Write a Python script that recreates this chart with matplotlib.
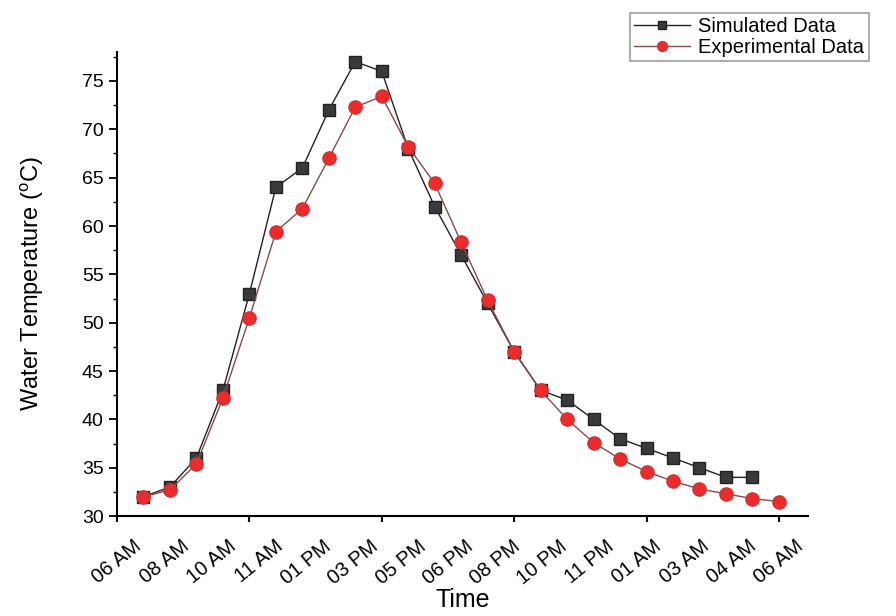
import matplotlib
matplotlib.use("Agg")
import matplotlib.pyplot as plt
import numpy as np

plt.rcParams['font.family'] = ['Liberation Sans', 'DejaVu Sans']

tick_labels = ["06 AM", "08 AM", "10 AM", "11 AM", "01 PM", "03 PM", "05 PM", "06 PM",
               "08 PM", "10 PM", "11 PM", "01 AM", "03 AM", "04 AM", "06 AM"]

sim_hours = list(range(1, 25))
sim_temp = [32, 33, 36, 43, 53, 64, 66, 72, 77, 76, 68, 62, 57, 52, 47, 43, 42, 40, 38, 37, 36, 35, 34, 34]

exp_hours = list(range(1, 26))
exp_temp = [32, 32.7, 35.4, 42.2, 50.5, 59.4, 61.8, 67.0, 72.3, 73.4, 68.2, 64.4, 58.3, 52.3,
            47.0, 43.0, 40.0, 37.6, 35.9, 34.6, 33.6, 32.8, 32.3, 31.8, 31.5]

fig = plt.figure(figsize=(8.96, 6.16), dpi=100)
ax = fig.add_axes([0.1306, 0.1623, 0.7712, 0.7533])

ax.plot(sim_hours, sim_temp, color='#222222', lw=1.0, marker='s', markersize=8.5,
        markerfacecolor='#3a3a3a', markeredgecolor='#222222', label='Simulated Data', zorder=3)
ax.plot(exp_hours, exp_temp, color='#8a4a4a', lw=1.0, marker='o', markersize=9.5,
        markerfacecolor='#ee2a2a', markeredgecolor='#cc3333', label='Experimental Data', zorder=4)

ax.set_xlim(0, 26.1)
ax.set_ylim(30, 78)

ax.xaxis.remove_overlapping_locs = False
ax.set_xticks(np.arange(0, 26, 5))
ax.set_xticklabels([])
ax.set_xticks(np.linspace(0, 25, len(tick_labels)), minor=True)
ax.set_xticklabels(tick_labels, minor=True, rotation=39, ha='center', fontsize=14.5)
ax.tick_params(axis='x', which='minor', length=0, pad=15)
ax.tick_params(axis='x', which='major', length=4.5, width=1.5, direction='out')

ax.set_yticks(np.arange(30, 76, 5))
ax.set_yticks(np.arange(32.5, 78, 5), minor=True)
ax.tick_params(axis='y', which='major', length=6, width=1.3, labelsize=14)
ax.tick_params(axis='y', which='minor', length=3, width=1.0)

for s in ['top', 'right']:
    ax.spines[s].set_visible(False)
for s in ['left', 'bottom']:
    ax.spines[s].set_linewidth(1.5)

ax.set_xlabel('Time', fontsize=18, labelpad=0)
ax.set_ylabel(r'Water Temperature ($\mathregular{^{o}}$C)', fontsize=17, labelpad=26)

leg = fig.legend(loc='upper left', bbox_to_anchor=(630 / 896, 1 - 13 / 616), borderaxespad=0,
                 fontsize=14.5, handlelength=2.8, frameon=True, fancybox=False, borderpad=0.2,
                 labelspacing=0.12, handletextpad=0.4, markerscale=0.75)
leg.get_frame().set_edgecolor('#999999')
leg.get_frame().set_linewidth(1.5)

fig.savefig('out.png', dpi=100)
